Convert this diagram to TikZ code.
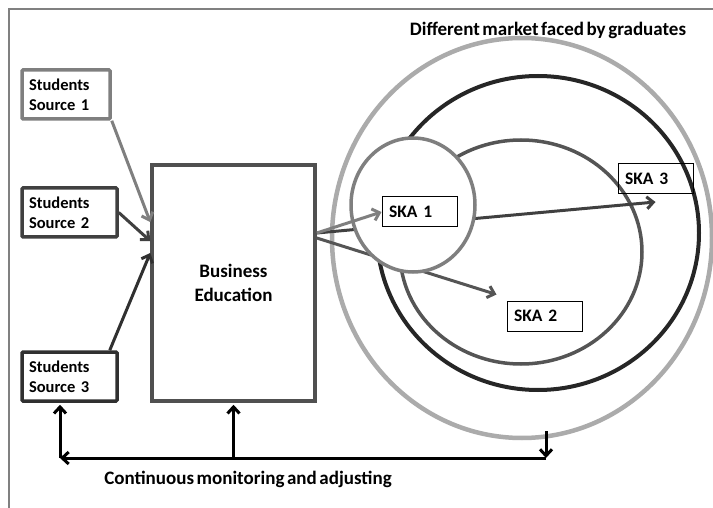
\documentclass[tikz,border=0pt]{standalone}
\usepackage{fontspec}
\setmainfont{Carlito}[WordSpace=0.6]
\usetikzlibrary{arrows.meta}

\definecolor{srcone}{HTML}{7F7F7F}
\definecolor{srctwo}{HTML}{404040}
\definecolor{srcthree}{HTML}{303030}
\definecolor{edubox}{HTML}{505050}
\definecolor{outerring}{HTML}{ABABAB}
\definecolor{midring}{HTML}{262626}
\definecolor{innerring}{HTML}{555555}

\tikzset{
    srcbox/.style={draw, line width=3.5pt, rounded corners=1pt, minimum height=49pt,
        inner xsep=7pt, align=left, font=\bfseries\fontsize{16.5}{20}\selectfont},
    skabox/.style={draw, line width=1pt, minimum height=30pt, inner xsep=7pt,
        text width=61pt, align=left, font=\bfseries\fontsize{17.5}{20}\selectfont},
    flow/.style={line width=3pt, -{Straight Barb[length=6.5pt,width=12pt]}},
}

\begin{document}
\begin{tikzpicture}[x=1pt, y=-1pt]
    \useasboundingbox (0,0) rectangle (713,508);
    \draw[line width=1.2pt, gray] (713,9) -- (9,9) -- (9,508);

    % sources and the programme
    \node[srcbox, draw=srcone, text width=74pt] (src1) at (66,94.5) {Students\\Source 1};
    \node[srcbox, draw=srctwo, text width=81pt] (src2) at (69.5,212.5) {Students\\Source 2};
    \node[srcbox, draw=srcthree, text width=81pt] (src3) at (69.5,376.5) {Students\\Source 3};
    \node[draw=edubox, line width=3.5pt, minimum width=163pt, minimum height=236pt,
        align=center, font=\bfseries\fontsize{19}{24}\selectfont] (edu) at (233.5,283) {Business\\Education};

    \draw[flow, srcone] (src1.south east) -- ([yshift=61pt]edu.west);
    \draw[flow, srctwo] (src2.east) -- ([yshift=42pt]edu.west);
    \draw[flow, srcthree] ([xshift=-9pt]src3.north east) -- ([yshift=30pt]edu.west);

    % markets
    \node[font=\bfseries\fontsize{19}{22}\selectfont] (market) at (548,30) {Different market faced by graduates};
    \draw[outerring, line width=4.5pt] (522,238) ellipse [x radius=190, y radius=200];
    \draw[midring, line width=4pt] (538,233) ellipse [x radius=161, y radius=157];
    \draw[innerring, line width=3.5pt] (521,252) ellipse [x radius=121, y radius=112];

    \node[skabox] (ska3) at (655.5,178.5) {SKA 3};
    \node[skabox] (ska2) at (544.5,316) {SKA 2};

    \draw[flow, srctwo] ([yshift=50pt]edu.east) -- ([yshift=-8pt]ska3.south);
    \draw[flow, innerring] ([yshift=45pt]edu.east) -- ([shift={(-10pt,6pt)}]ska2.north west);

    \draw[srcone, line width=3.5pt, fill=white] (413,205) ellipse [x radius=62, y radius=67];
    \node[skabox] (ska1) at (419.5,212) {SKA 1};
    \draw[flow, srcone] ([yshift=50pt]edu.east) -- (ska1.west);

    % feedback loop
    \coordinate (loopL) at (60,458);
    \coordinate (loopM) at (233.5,458);
    \coordinate (loopR) at (546,458);
    \coordinate (fromMkt) at (546,431);
    \node[font=\bfseries\fontsize{19}{22}\selectfont] (loop) at (248,479) {Continuous monitoring and adjusting};

    \draw[flow, black] (fromMkt) -- (loopR);
    \draw[flow, black] (loopR) -- (loopL);
    \draw[flow, black, shorten >=2pt] (loopL) -- (loopL |- src3.south);
    \draw[flow, black, shorten >=2pt] (loopM) -- (edu.south);
\end{tikzpicture}
\end{document}
